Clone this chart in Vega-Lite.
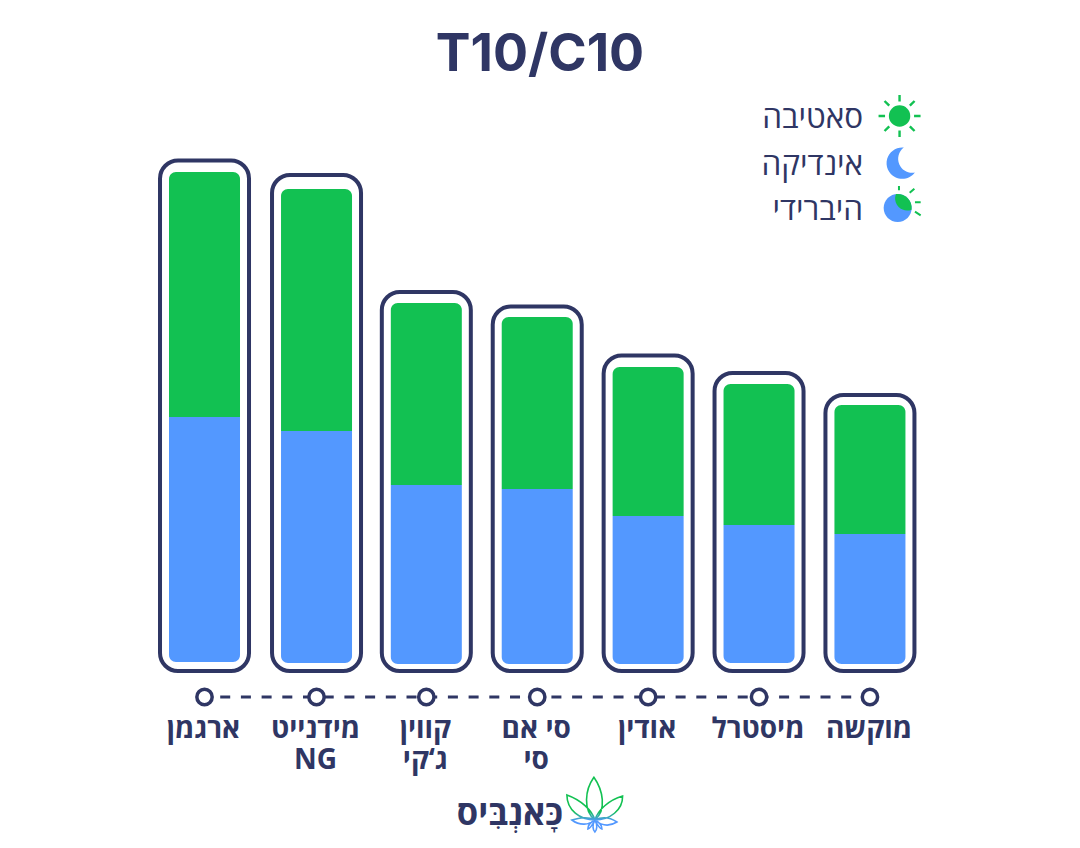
{
  "$schema": "https://vega.github.io/schema/vega-lite/v6.json",
  "description": "T10/C10 by strain, stacked sativa over indica, with framed bars",
  "width": 1080,
  "height": 848,
  "autosize": {"type": "none"},
  "padding": 0,
  "background": "#ffffff",
  "title": {
    "text": "T10/C10",
    "font": "Inter",
    "fontSize": 52,
    "fontWeight": 700,
    "color": "#2f3664",
    "anchor": "middle",
    "baseline": "alphabetic",
    "offset": -123
  },
  "datasets": {
    "strains": [
      {"name": "ארגמן", "pos": 0, "base": 2, "indica": 247, "sativa": 492, "frame": 503.5, "frameBase": -7},
      {"name": "מידנייט\nNG", "pos": 1.01, "base": 1, "indica": 233, "sativa": 475, "frame": 489, "frameBase": -7},
      {"name": "קווין\nג‘קי", "pos": 2, "base": 0, "indica": 179, "sativa": 361, "frame": 372, "frameBase": -7},
      {"name": "סי אם\nסי", "pos": 3, "base": 0, "indica": 175, "sativa": 347, "frame": 357.5, "frameBase": -7},
      {"name": "אודין", "pos": 4, "base": 0, "indica": 148, "sativa": 297, "frame": 308.5, "frameBase": -7},
      {"name": "מיסטרל", "pos": 5, "base": 1, "indica": 139, "sativa": 280, "frame": 291, "frameBase": -7},
      {"name": "מוקשה", "pos": 6, "base": 0, "indica": 130, "sativa": 259, "frame": 269, "frameBase": -7}
    ],
    "legend": [
      {"label": "סאטיבה", "kind": "sativa", "pos": 5.938, "iconPos": 6.267, "y": 548},
      {"label": "אינדיקה", "kind": "indica", "pos": 5.938, "iconPos": 6.267, "y": 501},
      {"label": "היברידי", "kind": "hybrid", "pos": 5.938, "iconPos": 6.25, "y": 456}
    ],
    "brand": [
      {"label": "כָּאנְבִּיס", "pos": 3.233, "iconPos": 3.52, "y": -149, "iconY": -156}
    ]
  },
  "layer": [
    {
      "data": {"name": "strains"},
      "mark": {"type": "bar", "width": 89, "fill": "#ffffff", "stroke": "#2f3664", "strokeWidth": 4, "cornerRadius": 18},
      "encoding": {
        "x": {"field": "pos", "type": "quantitative", "axis": null, "scale": {"domain": [-1.844, 7.894], "nice": false, "padding": 0}},
        "y": {"field": "frame", "type": "quantitative", "axis": null, "scale": {"domain": [-184, 664], "nice": false}},
        "y2": {"field": "frameBase"}
      }
    },
    {
      "data": {"name": "strains"},
      "mark": {"type": "bar", "width": 71, "fill": "#12c152", "cornerRadiusTopLeft": 7, "cornerRadiusTopRight": 7},
      "encoding": {
        "x": {"field": "pos", "type": "quantitative", "axis": null},
        "y": {"field": "sativa", "type": "quantitative", "axis": null},
        "y2": {"field": "indica"}
      }
    },
    {
      "data": {"name": "strains"},
      "mark": {"type": "bar", "width": 71, "fill": "#5398ff", "cornerRadiusBottomLeft": 7, "cornerRadiusBottomRight": 7},
      "encoding": {
        "x": {"field": "pos", "type": "quantitative", "axis": null},
        "y": {"field": "indica", "type": "quantitative", "axis": null},
        "y2": {"field": "base"}
      }
    },
    {
      "data": {"name": "strains"},
      "mark": {"type": "line", "stroke": "#2f3664", "strokeWidth": 3, "strokeDash": [10, 10.7], "strokeDashOffset": 5},
      "encoding": {
        "x": {"field": "pos", "type": "quantitative", "axis": null},
        "y": {"datum": -33, "type": "quantitative", "axis": null}
      }
    },
    {
      "data": {"name": "strains"},
      "mark": {"type": "point", "filled": false, "fill": "#ffffff", "fillOpacity": 1, "stroke": "#2f3664", "strokeWidth": 3.5, "size": 235, "opacity": 1},
      "encoding": {
        "x": {"field": "pos", "type": "quantitative", "axis": null},
        "y": {"datum": -33, "type": "quantitative", "axis": null}
      }
    },
    {
      "data": {"name": "strains"},
      "mark": {"type": "text", "font": "Open Sans", "fontSize": 28, "fontWeight": 700, "color": "#2f3664", "align": "center", "baseline": "top", "lineBreak": "\n", "lineHeight": 31, "dx": -1},
      "encoding": {
        "x": {"field": "pos", "type": "quantitative", "axis": null},
        "y": {"datum": -52, "type": "quantitative", "axis": null},
        "text": {"field": "name"}
      }
    },
    {
      "data": {"name": "legend"},
      "mark": {"type": "text", "font": "Open Sans", "fontSize": 31.5, "fontWeight": 400, "color": "#2f3664", "align": "right", "baseline": "middle", "dy": 3},
      "encoding": {
        "x": {"field": "pos", "type": "quantitative", "axis": null},
        "y": {"field": "y", "type": "quantitative", "axis": null},
        "text": {"field": "label"}
      }
    },
    {
      "data": {"name": "legend"},
      "transform": [{"filter": "datum.kind === 'sativa'"}],
      "mark": {"type": "point", "filled": true, "opacity": 1, "fill": "#12c152", "stroke": null, "size": 4, "shape": "M-10.7,0A10.7,10.7 0 1 0 10.7,0A10.7,10.7 0 1 0 -10.7,0Z"},
      "encoding": {
        "x": {"field": "iconPos", "type": "quantitative", "axis": null},
        "y": {"field": "y", "type": "quantitative", "axis": null}
      }
    },
    {
      "data": {"name": "legend"},
      "transform": [{"filter": "datum.kind === 'sativa'"}],
      "mark": {"type": "point", "filled": false, "opacity": 1, "stroke": "#12c152", "strokeWidth": 2.4, "size": 4, "shape": "M0,-21L0,-14.5M0,21L0,14.5M-21,0L-14.5,0M21,0L14.5,0M-15,-15L-10.3,-10.3M15,-15L10.3,-10.3M-15,15L-10.3,10.3M15,15L10.3,10.3"},
      "encoding": {
        "x": {"field": "iconPos", "type": "quantitative", "axis": null},
        "y": {"field": "y", "type": "quantitative", "axis": null}
      }
    },
    {
      "data": {"name": "legend"},
      "transform": [{"filter": "datum.kind === 'indica'"}],
      "mark": {"type": "point", "filled": true, "opacity": 1, "fill": "#5398ff", "stroke": null, "size": 4, "shape": "M4.3,-15.5A15.7,15.7 0 1 0 15.3,9.5A14,14 0 0 1 4.3,-15.5Z"},
      "encoding": {
        "x": {"field": "iconPos", "type": "quantitative", "axis": null},
        "y": {"field": "y", "type": "quantitative", "axis": null}
      }
    },
    {
      "data": {"name": "legend"},
      "transform": [{"filter": "datum.kind === 'hybrid'"}],
      "mark": {"type": "point", "filled": true, "opacity": 1, "fill": "#5398ff", "stroke": null, "size": 4, "shape": "M-14,0A14,14 0 1 0 14,0A14,14 0 1 0 -14,0Z"},
      "encoding": {
        "x": {"field": "iconPos", "type": "quantitative", "axis": null},
        "y": {"field": "y", "type": "quantitative", "axis": null}
      }
    },
    {
      "data": {"name": "legend"},
      "transform": [{"filter": "datum.kind === 'hybrid'"}],
      "mark": {"type": "point", "filled": true, "opacity": 1, "fill": "#12c152", "stroke": null, "size": 4, "shape": "M-1.7,-13.9A14,14 0 0 1 13.9,1.7A12,12 0 0 1 -1.7,-13.9Z"},
      "encoding": {
        "x": {"field": "iconPos", "type": "quantitative", "axis": null},
        "y": {"field": "y", "type": "quantitative", "axis": null}
      }
    },
    {
      "data": {"name": "legend"},
      "transform": [{"filter": "datum.kind === 'hybrid'"}],
      "mark": {"type": "point", "filled": false, "opacity": 1, "stroke": "#12c152", "strokeWidth": 2, "size": 4, "shape": "M1.3,-22L1.3,-17.7M12,-15.3L16.7,-19.3M17.3,-5.7L23,-5.7M17.3,3.7L23,7.3"},
      "encoding": {
        "x": {"field": "iconPos", "type": "quantitative", "axis": null},
        "y": {"field": "y", "type": "quantitative", "axis": null}
      }
    },
    {
      "data": {"name": "brand"},
      "mark": {"type": "text", "font": "Open Sans", "fontSize": 34.5, "fontWeight": 700, "color": "#2f3664", "align": "right", "baseline": "middle", "dy": 2},
      "encoding": {
        "x": {"field": "pos", "type": "quantitative", "axis": null},
        "y": {"field": "y", "type": "quantitative", "axis": null},
        "text": {"field": "label"}
      }
    },
    {
      "data": {"name": "brand"},
      "mark": {
        "type": "point",
        "filled": false,
        "opacity": 1,
        "strokeWidth": 1.6,
        "size": 4,
        "stroke": {"gradient": "linear", "x1": 0, "y1": 0, "x2": 0, "y2": 1, "stops": [{"offset": 0, "color": "#12c152"}, {"offset": 0.62, "color": "#12c152"}, {"offset": 0.8, "color": "#5398ff"}, {"offset": 1, "color": "#5398ff"}]},
        "shape": "M0,0C-12,-10 -10,-30 -1,-42.7C8,-30 12,-10 0,0ZM0,0C3,-10 14,-20 27.7,-24C28,-10 15,0 0,0ZM0,0C-3,-10 -14,-20 -28,-25C-28,-10 -15,0 0,0ZM0,0C8,-4 16,-2 22,2C14,7 6,5 0,0ZM0,0C-8,-4 -16,-2 -23,0C-15,6 -6,5 0,0ZM0,0C-3,5 -2,10 0,12C2,10 3,5 0,0ZM0,0C2,4 4,8 7,9C7,5 4,2 0,0ZM0,0C-2,4 -4,8 -7,9C-7,5 -4,2 0,0Z"
      },
      "encoding": {
        "x": {"field": "iconPos", "type": "quantitative", "axis": null},
        "y": {"field": "iconY", "type": "quantitative", "axis": null}
      }
    }
  ],
  "config": {"view": {"stroke": null}}
}
